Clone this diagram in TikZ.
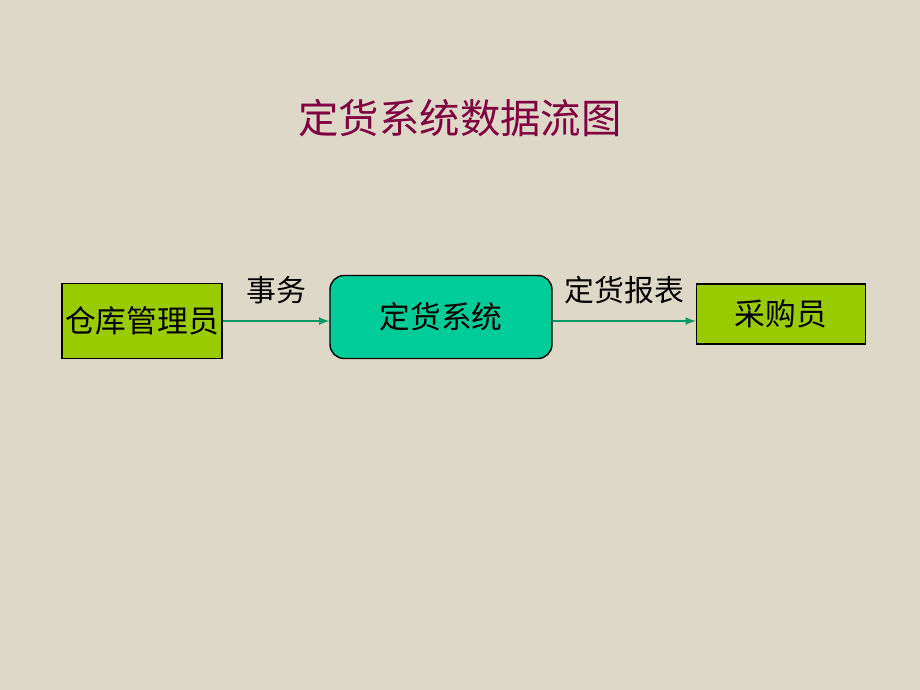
\documentclass[tikz,border=0pt]{standalone}
\usepackage{fontspec}
\setmainfont{Noto Sans CJK SC}
\definecolor{bg}{RGB}{222,216,200}
\definecolor{ttl}{RGB}{128,0,64}
\definecolor{gbox}{RGB}{153,204,0}
\definecolor{tbox}{RGB}{0,204,153}
\definecolor{arr}{RGB}{0,153,102}
\tikzset{ent/.style={draw=black,fill=gbox,line width=0.8pt,inner sep=0pt,font=\fontsize{17.5}{20}\selectfont},
flow/.style={draw=arr,line width=1pt,-latex},
lbl/.style={font=\fontsize{17}{20}\selectfont}}
\begin{document}
\begin{tikzpicture}[x=0.02cm,y=-0.02cm]
\fill[bg] (0,0) rectangle (920,690);
\useasboundingbox (0,0) rectangle (920,690);
\node[text=ttl,font=\fontsize{23}{26}\selectfont] (title) at (460,118) {定货系统数据流图};
\node[ent,minimum width=3.2cm,minimum height=1.5cm] (a) at (142,321) {仓库管理员};
\node[ent,fill=tbox,rounded corners=8pt,minimum width=4.44cm,minimum height=1.66cm] (b) at (441,317) {定货系统};
\node[ent,minimum width=3.38cm,minimum height=1.2cm] (c) at (781,314) {采购员};
\draw[flow] (a.east |- 0,321) -- (b.west |- 0,321) node[lbl,midway,above=6pt] {事务};
\draw[flow] (b.east |- 0,321) -- (c.west |- 0,321) node[lbl,midway,above=6pt] {定货报表};
\end{tikzpicture}
\end{document}
